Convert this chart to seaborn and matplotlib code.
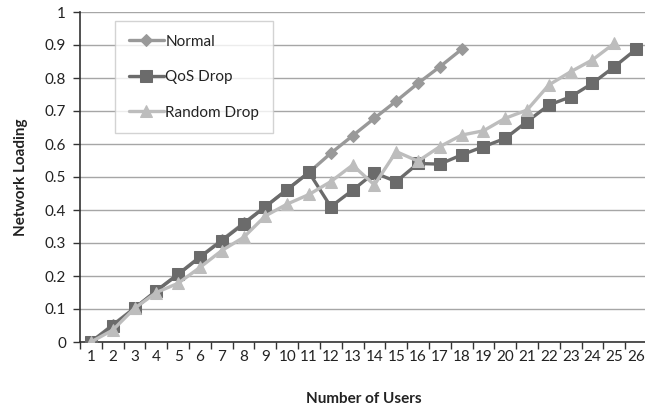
import matplotlib
matplotlib.use("Agg")
import matplotlib.pyplot as plt
import seaborn as sns
import pandas as pd
import numpy as np
from matplotlib.ticker import FixedLocator

users = list(range(1, 27))
normal = [0, 0.052, 0.103, 0.155, 0.206, 0.258, 0.309, 0.36, 0.41, 0.462,
          0.514, 0.572, 0.625, 0.678, 0.73, 0.784, 0.834, 0.887]
qos = [0, 0.05, 0.102, 0.155, 0.205, 0.257, 0.307, 0.358, 0.41, 0.462,
       0.514, 0.41, 0.46, 0.513, 0.486, 0.541, 0.539, 0.567, 0.592, 0.617,
       0.668, 0.718, 0.743, 0.784, 0.834, 0.887]
random_drop = [0, 0.036, 0.102, 0.15, 0.178, 0.226, 0.277, 0.317, 0.382, 0.418,
               0.447, 0.486, 0.536, 0.476, 0.577, 0.548, 0.592, 0.627, 0.64, 0.678,
               0.703, 0.779, 0.819, 0.855, 0.905]
series_names = ["Normal", "QoS Drop", "Random Drop"]

sns.set_theme(style="white")
plt.rcParams['font.family'] = ['Lato', 'DejaVu Sans']

fig = plt.figure(figsize=(6.45, 4.12), dpi=100)
ax = fig.add_axes([80/645, 1-342/412, 567/645, 330/412])

df = pd.concat([
    pd.DataFrame({"Users": users[:len(normal)], "Load": normal, "Series": series_names[0]}),
    pd.DataFrame({"Users": users[:len(qos)], "Load": qos, "Series": series_names[1]}),
    pd.DataFrame({"Users": users[:len(random_drop)], "Load": random_drop, "Series": series_names[2]}),
])

styles = {
    "Normal": dict(color="#999999", marker="D", markersize=6.5),
    "QoS Drop": dict(color="#6b6b6b", marker="s", markersize=8),
    "Random Drop": dict(color="#bdbdbd", marker="^", markersize=9),
}
for name in series_names:
    sub = df[df["Series"] == name]
    st = styles[name]
    sns.lineplot(data=sub, x="Users", y="Load", ax=ax, color=st["color"],
                 marker=st["marker"], markersize=st["markersize"],
                 markeredgecolor=st["color"], linewidth=2.4, label=name,
                 zorder=3)

ax.set_xlim(0.5, 26.5)
ax.set_ylim(0, 1)
yt = [round(v, 1) for v in np.arange(0, 1.01, 0.1)]
ax.set_yticks(yt)
ax.set_yticklabels(["0" if v == 0 else ("1" if v == 1 else f"{v:.1f}") for v in yt])
ax.set_xticks(users)
ax.set_xticklabels([str(u) for u in users])
ax.xaxis.set_minor_locator(FixedLocator([u + 0.5 for u in range(0, 27)]))
ax.tick_params(axis="x", which="major", length=0, pad=6, labelsize=11, colors="#222222")
ax.tick_params(axis="x", which="minor", length=5, width=1, color="#333333", direction="out", bottom=True)
ax.tick_params(axis="y", which="major", length=5, width=1, color="#333333", direction="out",
               left=True, labelsize=11, pad=5, labelcolor="#222222")

ax.grid(axis="y", color="#a6a6a6", linewidth=1)
ax.set_axisbelow(True)
for s in ["top", "right"]:
    ax.spines[s].set_visible(False)
for s in ["left", "bottom"]:
    ax.spines[s].set_color("#333333")
    ax.spines[s].set_linewidth(1.2)

ax.set_xlabel("Number of Users", fontsize=11, fontweight="bold", labelpad=20, color="#222222")
ax.set_ylabel("Network Loading", fontsize=11, fontweight="bold", labelpad=12, color="#222222")

leg = ax.legend(loc="upper left", bbox_to_anchor=((115-80)/567, (342-21)/330),
                frameon=True, fancybox=False, fontsize=11, labelspacing=1.4,
                handlelength=2.3, handletextpad=0.1, borderpad=0.9, borderaxespad=0)
leg.get_frame().set_edgecolor("#c8c8c8")
leg.get_frame().set_linewidth(1)
for t in leg.get_texts():
    t.set_color("#222222")

fig.savefig("out.png", dpi=100)
